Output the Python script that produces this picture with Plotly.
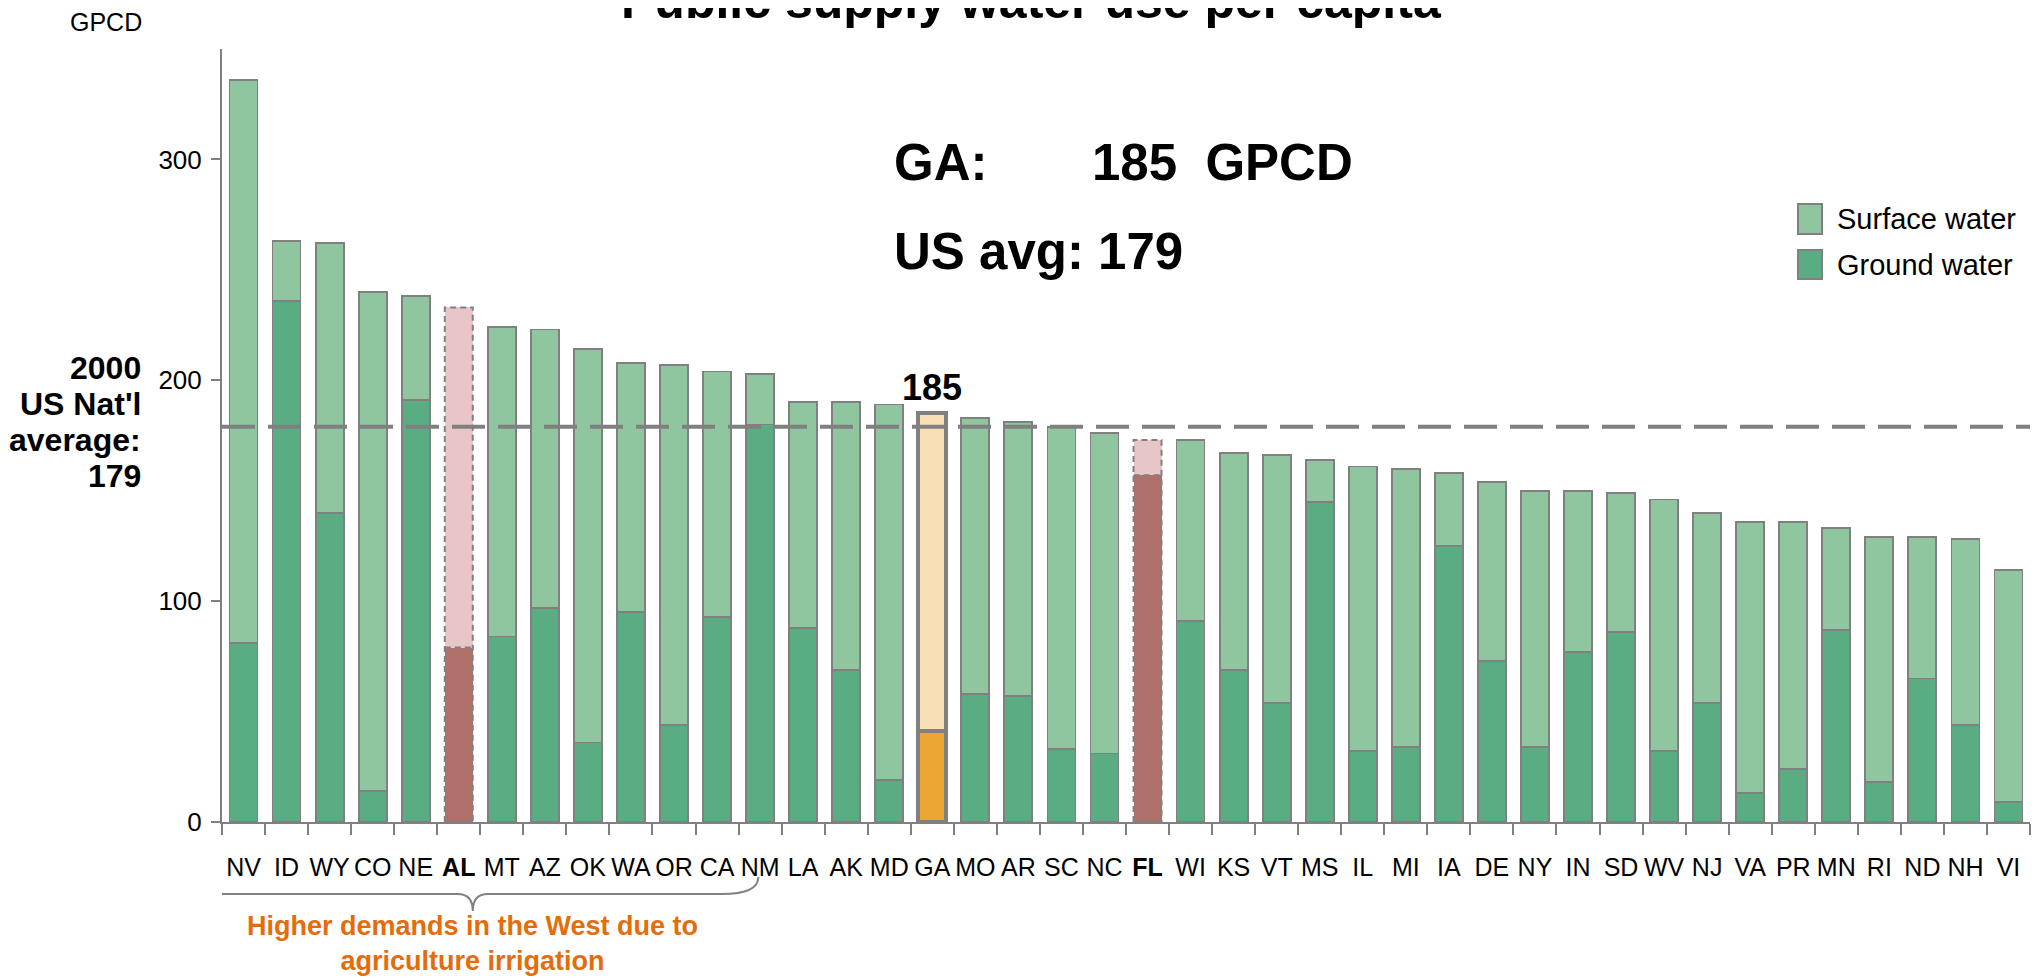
import plotly.graph_objects as go

# Public supply water use per capita (GPCD), 2000, sorted high to low
states = ["NV", "ID", "WY", "CO", "NE", "AL", "MT", "AZ", "OK", "WA", "OR", "CA", "NM", "LA",
          "AK", "MD", "GA", "MO", "AR", "SC", "NC", "FL", "WI", "KS", "VT", "MS", "IL", "MI",
          "IA", "DE", "NY", "IN", "SD", "WV", "NJ", "VA", "PR", "MN", "RI", "ND", "NH", "VI"]
ground = [81, 236, 140, 14, 191, 79, 84, 97, 36, 95, 44, 93, 180, 88,
          69, 19, 41, 58, 57, 33, 31, 157, 91, 69, 54, 145, 32, 34,
          125, 73, 34, 77, 86, 32, 54, 13, 24, 87, 18, 65, 44, 9]
surface = [255, 27, 122, 226, 47, 154, 140, 126, 178, 113, 163, 111, 23, 102,
           121, 170, 144, 125, 124, 146, 145, 16, 82, 98, 112, 19, 129, 126,
           33, 81, 116, 73, 63, 114, 86, 123, 112, 46, 111, 64, 84, 105]
y_ticks = [0, 100, 200, 300]
US_AVG = 179
FOCUS = "GA"
HIGHLIGHT = ["AL", "FL"]
WEST_SPAN = ("NV", "NM")

FONT = "Liberation Sans, Arial, sans-serif"
GRAY = "#808080"
SURF, GRND = "#8fc59f", "#5aad83"
SURF_RED, GRND_RED = "#e8c6c8", "#b0706a"
SURF_GA, GRND_GA = "#f8dfb5", "#eca633"
ORANGE = "#e46c0a"
BAR_WIDTH = 0.65

# plot area in page pixels; the html body adds an 8px margin
W, H, OFF = 2039, 978, 8
L, R, T, B = 222, 2030, 49, 822


def px(x):
    return (x - L) / (R - L)


def py(y):
    return (B - y) / (B - T)


x = list(range(len(states)))
total = [g + s for g, s in zip(ground, surface)]


def pick(s, normal, red, focus):
    if s == FOCUS:
        return focus
    if s in HIGHLIGHT:
        return red
    return normal


ground_colors = [pick(s, GRND, GRND_RED, GRND_GA) for s in states]
surface_colors = [pick(s, SURF, SURF_RED, SURF_GA) for s in states]
line_widths = [pick(s, 1.8, 0, 4) for s in states]
ticktext = [f"<b>{s}</b>" if s in HIGHLIGHT else s for s in states]

fig = go.Figure()

fig.add_trace(go.Bar(
    x=x, y=ground, width=BAR_WIDTH, name="Ground water",
    marker=dict(color=ground_colors, line=dict(color=GRAY, width=line_widths)),
))
fig.add_trace(go.Bar(
    x=x, y=surface, width=BAR_WIDTH, name="Surface water",
    marker=dict(color=surface_colors, line=dict(color=GRAY, width=line_widths)),
))

# dashed outlines for the highlighted states
half = BAR_WIDTH / 2
ox, oy = [], []
for s in HIGHLIGHT:
    i = states.index(s)
    ox += [i - half, i - half, i + half, i + half, i - half, None, i - half, i + half, None]
    oy += [0, total[i], total[i], 0, 0, None, ground[i], ground[i], None]
fig.add_trace(go.Scatter(
    x=ox, y=oy, mode="lines", line=dict(color=GRAY, width=2, dash="6px,4px"),
    hoverinfo="skip",
))

# national average line and pointer
fig.add_shape(type="line", xref="paper", x0=0, x1=1, y0=US_AVG, y1=US_AVG,
              line=dict(color=GRAY, width=4, dash="33px,13px"))
fig.add_shape(type="path", xref="x", xsizemode="pixel", xanchor=-0.5,
              yref="y", ysizemode="pixel", yanchor=US_AVG,
              path="M -64,-15 L -36,0 L -64,15 Z", fillcolor=GRAY, line=dict(width=0))

# brace under the western states
i0, i1 = states.index(WEST_SPAN[0]), states.index(WEST_SPAN[1])
xl, xr = i0 - 1.31, i1 - 0.04
xc = (xl + xr) / 2
ye, ym, yp = py(877), py(894), py(911)
brace = (f"M {xl},{ye} Q {xl},{ym} {xl + 0.85},{ym} L {xc - 0.35},{ym} "
         f"Q {xc},{ym} {xc},{yp} Q {xc},{ym} {xc + 0.35},{ym} "
         f"L {xr - 0.85},{ym} Q {xr},{ym} {xr},{ye}")
fig.add_shape(type="path", xref="x", yref="paper", path=brace,
              line=dict(color=GRAY, width=2))

# custom legend
for name, col, y0, y1 in [("Surface water", SURF, 204, 234), ("Ground water", GRND, 250, 279)]:
    fig.add_shape(type="rect", xref="paper", yref="paper", x0=px(1798), x1=px(1822),
                  y0=py(y1), y1=py(y0), fillcolor=col, line=dict(color=GRAY, width=2))
    fig.add_annotation(xref="paper", yref="paper", x=px(1835), y=py((y0 + y1) / 2),
                       text=name, showarrow=False, xanchor="left", yanchor="middle",
                       font=dict(size=29, color="black", family=FONT))

gi = states.index(FOCUS)
notes = [
    dict(x=px(1040), y=py(-3), text="<b>Public supply water use per capita<sup>1</sup></b>",
         xanchor="center", font_size=50),
    dict(x=px(106), y=py(22), text="GPCD", xanchor="center", font_size=25),
    dict(x=px(892), y=py(163), text="<b>GA:</b>", xanchor="left", font_size=51),
    dict(x=px(1090), y=py(163), text=f"<b>{total[gi]}\u00a0 GPCD</b>", xanchor="left", font_size=51),
    dict(x=px(892), y=py(252), text=f"<b>US avg: {US_AVG}</b>", xanchor="left", font_size=51),
]
avg_lines = ["2000", "US Nat'l", "average:", str(US_AVG)]
for line, yy in zip(avg_lines, [368, 404, 440, 476]):
    notes.append(dict(x=px(143), y=py(yy), text=f"<b>{line}</b>", xanchor="right", font_size=32))

for n in notes:
    fig.add_annotation(xref="paper", yref="paper", x=n["x"], y=n["y"], text=n["text"],
                       showarrow=False, xanchor=n["xanchor"], yanchor="middle",
                       font=dict(size=n["font_size"], color="black", family=FONT))

fig.add_annotation(xref="x", yref="paper", x=xc, y=py(943),
                   text="<b>Higher demands in the West due to<br>agriculture irrigation</b>",
                   showarrow=False, xanchor="center", yanchor="middle",
                   font=dict(size=27, color=ORANGE, family=FONT))

fig.add_annotation(xref="x", yref="y", x=gi, y=total[gi], text=f"<b>{total[gi]}</b>",
                   showarrow=False, xanchor="center", yanchor="bottom", yshift=3,
                   font=dict(size=36, color="black", family=FONT))

fig.update_layout(
    width=W, height=H,
    margin=dict(l=L - OFF, r=W - R + OFF, t=T - OFF, b=H - B + OFF),
    barmode="stack", bargap=0.35,
    showlegend=False,
    plot_bgcolor="white", paper_bgcolor="white",
    font=dict(family=FONT, size=24, color="black"),
    xaxis=dict(
        range=[-0.5, len(states) - 0.5], tickmode="array", tickvals=x, ticktext=ticktext,
        ticks="", showline=True, linecolor=GRAY, linewidth=2, showgrid=False, zeroline=False,
        tickfont=dict(size=25), ticklabelstandoff=22,
        minor=dict(tickmode="linear", tick0=-0.5, dtick=1, ticks="outside", ticklen=11,
                   tickwidth=2, tickcolor=GRAY, showgrid=False),
    ),
    yaxis=dict(
        range=[0, 350], tickmode="array", tickvals=y_ticks, ticks="outside", ticklen=9,
        tickwidth=2, tickcolor=GRAY, showline=True, linecolor=GRAY, linewidth=2,
        showgrid=False, zeroline=False, tickfont=dict(size=26), ticklabelstandoff=4,
    ),
)

fig.write_html("out.html")
